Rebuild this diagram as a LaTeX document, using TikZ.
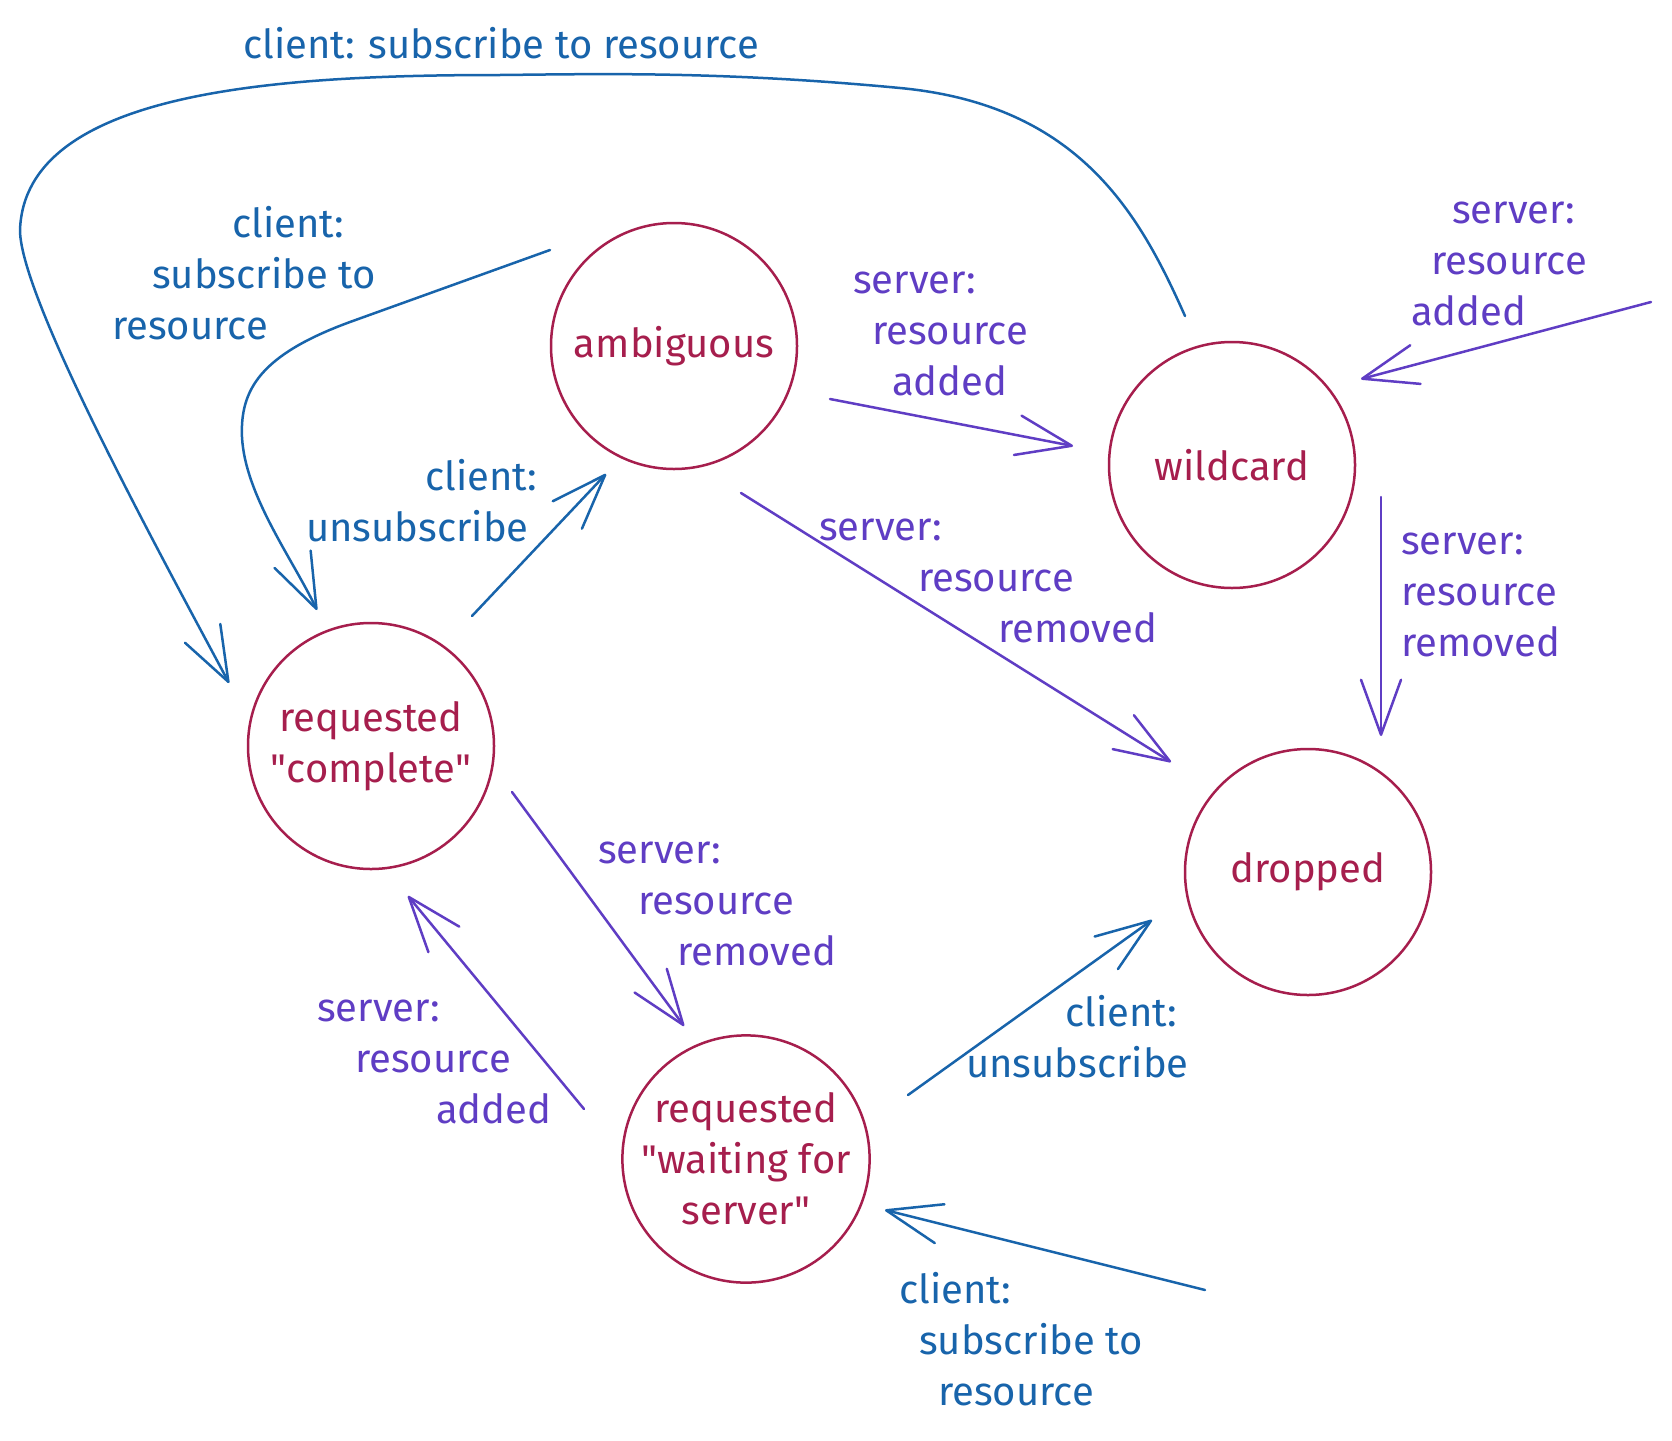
\documentclass[tikz,border=0pt]{standalone}
\usepackage{fontspec}
\setmainfont{Fira Sans}
\usetikzlibrary{arrows.meta,calc}
\definecolor{crim}{HTML}{A61E4D}
\definecolor{cblue}{HTML}{1864AB}
\definecolor{cviolet}{HTML}{5F3DC4}
\newcommand{\dq}{\textquotedbl}
\begin{document}
\begin{tikzpicture}[x=1pt,y=-1pt,
  stnode/.style={circle, draw=crim, line width=2.5pt, minimum size=246pt, inner sep=0pt,
    text=crim, align=center, font=\fontsize{40}{51}\selectfont},
  lbl/.style={anchor=north west, inner sep=0pt, align=left, font=\fontsize{40}{51}\selectfont},
  arr/.style={line width=2.5pt, line cap=round, line join=round,
    -{Straight Barb[length=55pt,width=40pt,round]}},
  cl/.style={draw=cblue, text=cblue},
  sv/.style={draw=cviolet, text=cviolet}]
\fill[white] (0,0) rectangle (1672,1440);
\useasboundingbox (0,0) rectangle (1672,1440);

% states
\node[stnode] (amb)  at (674,346)  {ambiguous};
\node[stnode] (wild) at (1232,465) {wildcard};
\node[stnode] (comp) at (371,746)  {requested\\\dq complete\dq};
\node[stnode] (drop) at (1308,872) {dropped};
\node[stnode] (wait) at (746,1159) {requested\\\dq waiting for\\server\dq};

% free ends
\coordinate (f6) at (1651,302);
\coordinate (f11) at (1205,1290);

% connectors
\draw[arr, cl] ($(wild)+(-47,-149)$) .. controls (1140,215) and (1080,105) .. (900,88)
  .. controls (720,71) and (600,74) .. (500,75)
  .. controls (280,75) and (25,90) .. (20,230)
  .. controls (20,300) and (169,570) .. ($(comp)+(-142,-63)$);
\draw[arr, cl] ($(amb)+(-124,-96)$) -- (350,322)
  .. controls (260,355) and (240,390) .. (242,437)
  .. controls (245,495) and (292,558) .. ($(comp)+(-54,-136)$);
\draw[arr, cl] ($(comp)+(101,-130)$) -- ($(amb)+(-68,128)$);
\draw[arr, sv] ($(amb)+(156,53)$) -- ($(wild)+(-159,-19)$);
\draw[arr, sv] ($(amb)+(67,147)$) -- ($(drop)+(-137,-110)$);
\draw[arr, sv] (f6) -- ($(wild)+(129,-86)$);
\draw[arr, sv] ($(wild)+(149,32)$) -- ($(drop)+(73,-136)$);
\draw[arr, sv] ($(comp)+(141,46)$) -- ($(wait)+(-62,-133)$);
\draw[arr, sv] ($(wait)+(-162,-50)$) -- ($(comp)+(37,150)$);
\draw[arr, cl] ($(wait)+(162,-64)$) -- ($(drop)+(-156,48)$);
\draw[arr, cl] (f11) -- ($(wait)+(139,51)$);

% labels
\node[lbl, text=cblue] (lA) at (243,22.3) {\strut client: subscribe to resource};
\node[lbl, text=cblue] (lB) at (112,201.3) {\hspace*{120pt}\strut client:\\\hspace*{40pt}\strut subscribe to\\\strut resource};
\node[lbl, text=cblue] (lC) at (306,454.3) {\hspace*{119pt}\strut client:\\\strut unsubscribe};
\node[lbl, text=cviolet] (lD) at (853,257.3) {\strut server:\\\hspace*{19pt}\strut resource\\\hspace*{39pt}\strut added};
\node[lbl, text=cviolet] (lE) at (819,504.3) {\strut server:\\\hspace*{99pt}\strut resource\\\hspace*{179pt}\strut removed};
\node[lbl, text=cviolet] (lF) at (1411,187.3) {\hspace*{41pt}\strut server:\\\hspace*{20pt}\strut resource\\\strut added};
\node[lbl, text=cviolet] (lG) at (1401,518.3) {\strut server:\\\strut resource\\\strut removed};
\node[lbl, text=cviolet] (lH) at (598,827.3) {\strut server:\\\hspace*{40pt}\strut resource\\\hspace*{79pt}\strut removed};
\node[lbl, text=cviolet] (lI) at (317,985.3) {\strut server:\\\hspace*{38pt}\strut resource\\\hspace*{119pt}\strut added};
\node[lbl, text=cblue] (lJ) at (966,990.3) {\hspace*{99pt}\strut client:\\\strut unsubscribe};
\node[lbl, text=cblue] (lK) at (899,1267.3) {\strut client:\\\hspace*{20pt}\strut subscribe to\\\hspace*{39pt}\strut resource};
\end{tikzpicture}
\end{document}
